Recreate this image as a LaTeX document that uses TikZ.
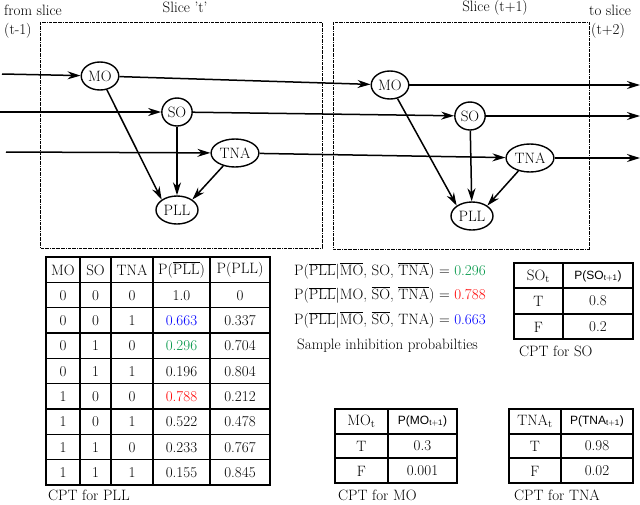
\documentclass[tikz,border=0pt]{standalone}
\usepackage{fontspec}
\setsansfont{Liberation Sans}
\usetikzlibrary{arrows.meta,shapes.geometric}
\definecolor{mygreen}{RGB}{0,150,70}
\begin{document}
\begin{tikzpicture}[x=1pt,y=-1pt,
  font=\rmfamily\fontsize{15}{17}\selectfont,
  nd/.style={draw,line width=1.4pt,ellipse,inner sep=1.5pt,minimum height=28pt,minimum width=30pt},
  arr/.style={line width=1.5pt,-{Stealth[length=13pt,width=8pt]}},
  slicebox/.style={draw,densely dash dot,line width=1pt},
  tl/.style={line width=1.5pt},
  cell/.style={anchor=center,inner sep=0pt}]
\useasboundingbox (0,0) rectangle (640,504);
% slices
\draw[slicebox] (40,22) rectangle (322,248);
\draw[slicebox] (333,22) rectangle (589,249);
\node[anchor=west,inner sep=0] (fs) at (4,10) {from slice};
\node[anchor=west,inner sep=0] (fs2) at (4,31) {(t-1)};
\node[inner sep=0] (st) at (185,7) {Slice 't'};
\node[inner sep=0] (st1) at (495,8) {Slice (t+1)};
\node[anchor=west,inner sep=0] (ts) at (589,10) {to slice};
\node[anchor=west,inner sep=0] (ts2) at (591,31) {(t+2)};
% nodes
\node[nd] (mo1) at (100,76) {MO};
\node[nd] (so1) at (177,112) {SO};
\node[nd] (tna1) at (235,153) {TNA};
\node[nd] (pll1) at (177,210) {PLL};
\node[nd] (mo2) at (390,85) {MO};
\node[nd] (so2) at (470,116) {SO};
\node[nd] (tna2) at (530,158) {TNA};
\node[nd] (pll2) at (472,216) {PLL};
\coordinate (i1) at (2,74); \coordinate (i2) at (0,112); \coordinate (i3) at (6,152);
\coordinate (o1) at (640,85); \coordinate (o2) at (640,116); \coordinate (o3) at (640,158);
\draw[arr] (i1) -- (mo1); \draw[arr] (i2) -- (so1); \draw[arr] (i3) -- (tna1);
\draw[arr] (mo1) -- (mo2); \draw[arr] (so1) -- (so2); \draw[arr] (tna1) -- (tna2);
\draw[arr] (mo2) -- (o1); \draw[arr] (so2) -- (o2); \draw[arr] (tna2) -- (o3);
\foreach \a in {1,2}{
  \draw[arr] (mo\a) -- (pll\a.north west);
  \draw[arr] (so\a) -- (pll\a);
  \draw[arr] (tna\a) -- (pll\a.north east);
}
% big table
\draw[tl] (46,257) rectangle (270,485);
\foreach \x in {80,111,153,210} \draw[tl] (\x,257) -- (\x,485);
\foreach \i in {1,...,8} \draw[tl] (46,{257+\i*25.33}) -- (270,{257+\i*25.33});
\node[cell] (h1) at (63,270) {MO};
\node[cell] (h2) at (95.5,270) {SO};
\node[cell] (h3) at (132,270) {TNA};
\node[cell] (h4) at (181.5,270) {P($\overline{\hbox{PLL}}$)};
\node[cell] (h5) at (240,270) {P(PLL)};
\foreach [count=\r] \a/\b/\c/\d/\e in {0/0/0/1.0/0,0/0/1/\textcolor{blue}{0.663}/0.337,0/1/0/\textcolor{mygreen}{0.296}/0.704,0/1/1/0.196/0.804,1/0/0/\textcolor{red}{0.788}/0.212,1/0/1/0.522/0.478,1/1/0/0.233/0.767,1/1/1/0.155/0.845}{
  \pgfmathsetmacro\yy{270+\r*25.33}
  \node[cell] (r\r a) at (63,\yy) {\a};
  \node[cell] (r\r b) at (95.5,\yy) {\b};
  \node[cell] (r\r c) at (132,\yy) {\c};
  \node[cell] (r\r d) at (181.5,\yy) {\d};
  \node[cell] (r\r e) at (240,\yy) {\e};
}
\node[anchor=west,inner sep=0] (cpll) at (48,495) {CPT for PLL};
% equations
\node[anchor=west,inner sep=0] (e1) at (294,271) {P($\overline{\hbox{PLL}}$|$\overline{\hbox{MO}}$, SO, $\overline{\hbox{TNA}}$) = \textcolor{mygreen}{0.296}};
\node[anchor=west,inner sep=0] (e2) at (294,295) {P($\overline{\hbox{PLL}}$|MO, $\overline{\hbox{SO}}$, $\overline{\hbox{TNA}}$) = \textcolor{red}{0.788}};
\node[anchor=west,inner sep=0] (e3) at (294,320) {P($\overline{\hbox{PLL}}$|$\overline{\hbox{MO}}$, $\overline{\hbox{SO}}$, TNA) = \textcolor{blue}{0.663}};
\node[anchor=west,inner sep=0] (e4) at (297,346) {Sample inhibition probabilties};
% SO table
\draw[tl] (514,263) rectangle (633,339);
\draw[tl] (563,263) -- (563,339);
\draw[tl] (514,288) -- (633,288); \draw[tl] (514,314) -- (633,314);
\node[cell] (s1) at (538.5,276) {SO$_{\mathrm{t}}$};
\node[cell] (s2) at (598,276) {\sffamily\fontsize{12}{14}\selectfont P(SO$_{\mathsf{t+1}}$)};
\node[cell] (s3) at (538.5,301) {T}; \node[cell] (s4) at (598,301) {0.8};
\node[cell] (s5) at (538.5,327) {F}; \node[cell] (s6) at (598,327) {0.2};
\node[anchor=west,inner sep=0] (cso) at (519,351) {CPT for SO};
% MO table
\draw[tl] (335,409) rectangle (457,483);
\draw[tl] (388,409) -- (388,483);
\draw[tl] (335,434) -- (457,434); \draw[tl] (335,458) -- (457,458);
\node[cell] (m1) at (361.5,421) {MO$_{\mathrm{t}}$};
\node[cell] (m2) at (422.5,421) {\sffamily\fontsize{12}{14}\selectfont P(MO$_{\mathsf{t+1}}$)};
\node[cell] (m3) at (361.5,446) {T}; \node[cell] (m4) at (422.5,446) {0.3};
\node[cell] (m5) at (361.5,471) {F}; \node[cell] (m6) at (422.5,471) {0.001};
\node[anchor=west,inner sep=0] (cmo) at (338,495) {CPT for MO};
% TNA table
\draw[tl] (509,409) rectangle (633,483);
\draw[tl] (561,409) -- (561,483);
\draw[tl] (509,434) -- (633,434); \draw[tl] (509,458) -- (633,458);
\node[cell] (t1) at (535,421) {TNA$_{\mathrm{t}}$};
\node[cell] (t2) at (597,421) {\sffamily\fontsize{12}{14}\selectfont P(TNA$_{\mathsf{t+1}}$)};
\node[cell] (t3) at (535,446) {T}; \node[cell] (t4) at (597,446) {0.98};
\node[cell] (t5) at (535,471) {F}; \node[cell] (t6) at (597,471) {0.02};
\node[anchor=west,inner sep=0] (ctna) at (514,495) {CPT for TNA};
\end{tikzpicture}
\end{document}
